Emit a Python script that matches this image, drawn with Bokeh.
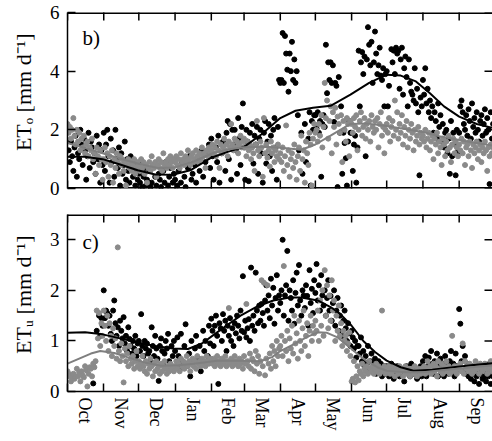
import math
from bokeh.plotting import figure
from bokeh.layouts import column
from bokeh.models import Range1d, FixedTicker, LinearAxis, Label
from bokeh.embed import file_html
from bokeh.resources import INLINE

FONT = "Liberation Serif"

# ---------------- axis categories ----------------
month_names = ["Oct", "Nov", "Dec", "Jan", "Feb", "Mar", "Apr", "May", "Jun", "Jul", "Aug", "Sep"]
month_start = [0, 31, 61, 92, 123, 151, 182, 212, 243, 273, 304, 335, 365]
month_mid = [15, 46, 76, 107, 137, 166, 197, 227, 258, 288, 319, 350]
b_yticks = [0, 2, 4, 6]
c_yticks = [0, 1, 2, 3]
b_ylabel = "\u00a0\u00a0\u00a0ET\u2092 [mm d\u207b\u00b9]"
c_ylabel = "\u00a0\u00a0\u00a0ET\u1d64 [mm d\u207b\u00b9]"

# ---------------- panel b) ETo : black points ----------------
b_black_day = [
    1, 2, 3, 4, 5, 6, 7, 8, 9, 10, 11, 12, 13, 14, 15, 16, 17, 18, 19, 20, 21, 22, 23, 24, 25, 26, 27, 28, 29, 30,
    31, 32, 33, 34, 35, 36, 37, 38, 39, 40, 41, 42, 43, 44, 45, 46, 47, 48, 49, 50, 51, 52, 53, 54, 55, 56, 57, 58, 59, 60,
    61, 62, 63, 64, 65, 66, 67, 68, 70, 71, 72, 74, 75, 76, 78, 79, 80, 82, 83, 84, 86, 87, 88, 90, 91,
    92, 94, 95, 97, 98, 100, 101, 103, 104, 106, 107, 109, 110, 112, 113, 115, 116, 118, 119, 121, 122,
    123, 124, 125, 127, 128, 129, 130, 132, 133, 135, 136, 137, 138, 139, 140, 141, 142, 143, 144, 145, 146, 147, 148, 149, 150,
    151, 152, 153, 154, 155, 156, 157, 158, 159, 160, 161, 162, 163, 164, 165, 166, 167, 168, 169, 170, 171, 172, 173, 174, 175, 176, 177, 178, 179, 180, 181,
    182, 183, 184, 185, 186, 187, 188, 189, 190, 191, 192, 193, 194, 195, 196, 197, 198, 200, 201, 203, 204, 206, 207, 208, 209, 210, 211,
    212, 213, 214, 215, 216, 217, 218, 219, 220, 221, 222, 223, 224, 225, 226, 227, 228, 229, 230, 231, 232, 233, 234, 235, 236, 237, 238, 239, 240, 241, 242,
    243, 244, 245, 246, 247, 248, 249, 250, 251, 252, 253, 254, 255, 256, 257, 258, 259, 260, 261, 262, 263, 264, 265, 266, 267, 268, 269, 270, 271, 272,
    273, 274, 275, 277, 278, 279, 280, 281, 282, 283, 284, 285, 286, 287, 288, 289, 290, 291, 292, 293, 294, 295, 296, 297, 298, 299, 300, 301, 302, 303,
    304, 305, 306, 307, 308, 309, 310, 311, 312, 313, 314, 315, 316, 317, 318, 319, 320, 321, 322, 323, 324, 325, 326, 327, 328, 329, 330, 331, 332, 333, 334,
    335, 336, 337, 338, 339, 340, 341, 342, 343, 344, 345, 346, 347, 348, 349, 350, 351, 352, 353, 354, 355, 356, 357, 358, 359, 360, 361, 362, 363, 364,
]
b_black_val = [
    1.3, 0.9, 1.6, 1.1, 0.6, 1.4, 1.8, 0.4, 1.2, 1.0, 2.0, 1.5, 0.8, 1.7, 1.3, 0.3, 1.1, 1.9, 0.7, 1.6, 1.4, 0.9, 1.2, 0.5, 1.8, 1.0, 1.5, 0.2, 1.3, 0.8,
    1.9, 0.6, 1.5, 2.0, 1.1, 0.2, 1.7, 0.9, 1.3, 0.4, 2.0, 1.0, 0.7, 1.4, 0.1, 1.2, 0.5, 0.8, 1.6, 0.3, 1.0, 0.6, 0.2, 1.1, 0.7, 0.4, 0.9, 0.1, 0.6, 0.3,
    0.5, 0.2, 0.9, 0.05, 0.4, 0.7, 0.1, 0.3, 0.6, 0.05, 0.2, 0.8, 0.4, 0.1, 0.5, 0.3, 0.05, 0.6, 0.2, 0.9, 0.1, 0.4, 0.7, 0.2, 0.5,
    0.3, 0.1, 0.6, 0.2, 0.9, 0.4, 0.05, 0.7, 1.1, 0.3, 0.5, 0.8, 0.2, 1.0, 0.6, 1.3, 0.4, 0.9, 1.2, 1.5, 0.7,
    1.7, 1.1, 0.3, 1.4, 0.9, 1.8, 0.2, 1.2, 1.6, 0.6, 1.9, 2.3, 1.0, 2.2, 0.3, 2.0, 1.5, 2.0, 1.3, 0.5, 2.4, 1.7, 0.8, 2.1, 2.9,
    1.4, 0.3, 2.0, 1.6, 0.25, 1.9, 1.4, 2.2, 0.85, 1.8, 1.5, 2.1, 0.5, 1.7, 2.0, 1.2, 0.2, 1.9, 2.3, 0.85, 1.6, 2.2, 1.1, 1.8, 0.6, 2.0, 2.4, 1.4, 0.3, 2.1, 3.7,
    3.6, 3.7, 5.3, 3.6, 5.2, 4.6, 4.05, 3.3, 4.6, 4.0, 5.0, 3.7, 4.4, 3.6, 4.0, 2.5, 1.3, 1.9, 0.5, 2.2, 0.9, 1.7, 2.6, 0.1, 2.3, 2.0, 2.5,
    2.5, 2.05, 2.6, 1.9, 2.3, 0.4, 2.2, 2.5, 2.1, 4.9, 3.25, 4.3, 3.7, 4.3, 3.6, 4.2, 2.27, 3.6, 3.5, 0.05, 3.8, 1.9, 2.8, 0.5, 1.9, 1.55, 1.03, 0.1, 1.6, 2.3, 1.9,
    1.9, 0.6, 1.5, 1.8, 0.2, 1.4, 4.7, 2.8, 4.3, 4.65, 3.9, 4.5, 1.1, 4.4, 5.5, 4.9, 4.2, 5.0, 3.6, 4.3, 5.35, 4.6, 3.9, 4.2, 4.8, 3.85, 3.7, 4.1, 2.8, 3.9,
    4.0, 2.8, 3.5, 4.75, 4.3, 4.7, 3.9, 4.8, 4.6, 4.7, 3.4, 4.4, 4.8, 3.2, 4.1, 4.5, 3.8, 2.8, 4.4, 3.6, 3.3, 3.2, 3.0, 4.1, 2.9, 3.4, 2.6, 0.45, 3.1, 2.8,
    3.7, 3.2, 4.1, 2.9, 3.4, 2.6, 3.0, 2.4, 2.8, 1.9, 2.6, 2.3, 1.7, 2.9, 2.1, 2.5, 1.6, 2.2, 1.4, 1.9, 2.0, 1.2, 1.7, 0.5, 2.3, 1.1, 1.9, 1.5, 0.45, 2.0, 1.25,
    1.9, 2.8, 3.0, 2.6, 2.2, 2.0, 2.5, 1.8, 2.7, 2.3, 1.7, 2.9, 2.1, 2.4, 1.9, 2.6, 2.0, 1.6, 2.3, 2.5, 1.8, 2.2, 2.7, 1.9, 2.4, 2.0, 0.15, 2.6, 1.7, 2.2,
]

# ---------------- panel b) ETo : grey points (one per day, per month) ----------------
b_grey_months = [
    [2.2, 1.9, 2.1, 1.7, 2.0, 2.4, 1.8, 1.5, 2.0, 1.6, 1.9, 1.3, 1.7, 1.4, 1.8, 1.2, 1.5, 1.6, 1.1, 1.4, 1.3, 1.7, 1.0, 1.2, 0.5, 1.4, 1.1, 0.8, 1.3, 1.0, 0.3],
    [1.0, 1.4, 0.9, 1.2, 0.4, 1.1, 0.8, 1.3, 0.2, 1.0, 0.7, 1.2, 0.9, 0.5, 1.1, 0.8, 1.0, 0.6, 0.9, 0.1, 0.8, 1.0, 0.7, 0.9, 0.6, 0.8, 1.0, 0.5, 0.7, 0.9],
    [0.8, 0.6, 1.0, 0.7, 0.9, 0.5, 0.8, 0.2, 0.7, 0.9, 0.6, 1.1, 0.8, 0.7, 0.9, 0.4, 0.8, 1.0, 0.7, 0.9, 0.6, 1.2, 0.8, 0.9, 0.7, 1.0, 0.8, 1.1, 0.9, 0.7, 1.0],
    [0.9, 1.1, 0.8, 1.0, 0.7, 1.2, 0.9, 1.0, 0.8, 1.1, 0.9, 1.3, 1.0, 0.8, 1.1, 1.2, 0.9, 1.0, 1.3, 1.1, 0.9, 1.2, 1.0, 1.4, 1.1, 1.2, 0.7, 1.3, 1.1, 1.4, 1.2],
    [1.3, 1.5, 1.2, 1.4, 1.1, 1.6, 1.3, 0.7, 1.5, 1.2, 1.4, 1.7, 1.3, 1.5, 1.1, 1.6, 1.4, 2.2, 1.5, 1.3, 1.7, 1.4, 1.6, 1.2, 1.5, 1.8, 1.4, 1.6],
    [1.7, 1.4, 1.1, 1.6, 1.3, 1.5, 1.0, 1.4, 1.2, 0.6, 1.5, 2.3, 1.3, 1.1, 1.6, 1.4, 0.4, 2.4, 1.2, 1.5, 1.05, 1.3, 0.75, 1.6, 1.2, 1.4, 0.9, 1.3, 1.1, 1.5, 1.0],
    [1.2, 0.9, 1.4, 0.6, 1.1, 2.15, 0.8, 1.3, 0.4, 1.0, 1.2, 0.7, 1.5, 0.9, 0.3, 1.1, 1.4, 0.6, 1.8, 1.0, 1.3, 0.2, 1.6, 1.2, 0.8, 1.9, 1.5, 0.1, 1.7, 2.2],
    [1.9, 2.0, 1.6, 2.2, 1.8, 2.5, 1.4, 2.1, 3.6, 2.4, 3.0, 1.7, 2.3, 2.8, 1.2, 2.6, 2.1, 2.75, 1.5, 2.45, 2.2, 1.9, 2.5, 0.9, 2.3, 2.0, 1.6, 2.4, 2.2, 1.1, 2.3],
    [2.2, 1.9, 2.4, 2.1, 2.5, 1.3, 2.0, 2.3, 2.6, 1.8, 2.1, 2.4, 1.7, 2.2, 2.0, 2.3, 1.6, 2.5, 2.1, 1.9, 2.3, 2.0, 2.4, 1.4, 2.2, 2.6, 1.8, 2.1, 1.2, 2.0],
    [2.2, 1.9, 2.4, 1.6, 2.1, 2.3, 1.8, 3.0, 2.0, 2.6, 1.7, 2.2, 1.9, 2.5, 1.5, 2.1, 1.8, 2.3, 1.4, 2.0, 1.7, 2.2, 1.9, 1.3, 2.0, 1.6, 1.8, 2.1, 1.5, 1.9, 1.7],
    [1.8, 1.6, 2.0, 1.4, 1.7, 1.9, 1.3, 1.6, 1.8, 1.0, 1.7, 1.5, 1.9, 1.2, 1.6, 1.4, 0.8, 1.7, 1.5, 1.1, 1.6, 1.3, 1.8, 1.4, 0.9, 1.5, 1.7, 1.2, 1.6, 1.4, 1.1],
    [1.5, 1.3, 1.7, 1.2, 1.6, 0.8, 1.4, 1.5, 1.1, 1.6, 1.3, 0.7, 1.5, 1.2, 1.4, 1.6, 1.0, 1.3, 1.5, 0.9, 1.4, 1.2, 1.6, 1.3, 0.6, 1.4, 1.1, 1.5, 1.2, 1.4],
]

# ---------------- panel b) fitted curves ----------------
b_black_fit_day = [0, 15, 30, 45, 60, 75, 90, 105, 123, 137, 151, 166, 182, 195, 210, 225, 242, 258, 273, 285, 298, 310, 322, 335, 350, 365]
b_black_fit_val = [1.08, 1.08, 1.0, 0.82, 0.62, 0.48, 0.47, 0.62, 1.05, 1.25, 1.42, 1.85, 2.4, 2.65, 2.75, 2.82, 3.2, 3.6, 3.88, 3.85, 3.65, 3.25, 2.8, 2.45, 2.2, 2.05]
b_grey_fit_day = [0, 15, 30, 45, 60, 77, 92, 108, 125, 140, 151, 170, 185, 200, 212, 225, 242, 255, 270, 290, 305, 318, 335, 350, 365]
b_grey_fit_val = [1.55, 1.38, 1.2, 1.02, 0.85, 0.7, 0.72, 0.92, 1.22, 1.35, 1.41, 1.42, 1.38, 1.32, 1.5, 1.8, 2.2, 2.22, 2.15, 2.02, 1.92, 1.78, 1.65, 1.55, 1.45]

# ---------------- panel c) ETu : black points ----------------
c_black_day = [
    22, 25, 27, 28, 29, 30,
    31, 32, 33, 34, 35, 36, 37, 38, 39, 40, 41, 42, 43, 44, 45, 46, 47, 48, 49, 50, 51, 52, 53, 54, 55, 56, 57, 58, 59, 60,
    61, 62, 63, 64, 65, 66, 67, 68, 69, 70, 71, 72, 73, 74, 75, 76, 77, 78, 79, 80, 81, 82, 83, 84, 85, 86, 87, 88, 89, 90, 91,
    92, 93, 94, 95, 96, 97, 98, 100, 101, 102, 104, 105, 106, 108, 109, 110, 112, 113, 114, 116, 117, 118, 120, 121, 122,
    123, 124, 125, 126, 127, 128, 129, 130, 131, 132, 133, 134, 135, 136, 137, 138, 139, 140, 141, 142, 143, 144, 145, 146, 147, 148, 149, 150,
    151, 152, 153, 154, 155, 156, 157, 158, 159, 160, 161, 162, 163, 164, 165, 166, 167, 168, 169, 170, 171, 172, 173, 174, 175, 176, 177, 178, 179, 180, 181,
    182, 183, 184, 185, 186, 187, 188, 189, 190, 191, 192, 193, 194, 195, 196, 197, 198, 199, 200, 201, 202, 203, 204, 205, 206, 207, 208, 209, 210, 211,
    212, 213, 214, 215, 216, 217, 218, 219, 220, 221, 222, 223, 224, 225, 226, 227, 228, 229, 230, 231, 232, 233, 234, 235, 236, 237, 238, 239, 240, 241, 242,
    243, 244, 245, 246, 247, 248, 249, 250, 251, 252, 253, 254, 255, 256, 257, 258, 259, 260, 261, 262, 263, 264, 265, 266, 267, 268, 269, 270, 271, 272,
    273, 274, 275, 277, 278, 279, 281, 282, 284, 285, 287, 288, 290, 291, 293, 294, 296, 297, 299, 300, 302, 303,
    304, 305, 306, 307, 308, 309, 310, 311, 312, 313, 314, 315, 316, 317, 318, 319, 320, 321, 322, 323, 324, 325, 326, 327, 328, 329, 330, 331, 332, 333, 334,
    335, 336, 337, 338, 339, 340, 341, 342, 343, 344, 345, 346, 347, 348, 349, 350, 351, 352, 353, 354, 355, 356, 357, 358, 359, 360, 361, 362, 363, 364,
]
c_black_val = [
    0.16, 1.2, 1.5, 1.1, 1.45, 1.3,
    2.0, 1.45, 1.6, 1.55, 1.3, 1.5, 1.14, 1.0, 1.6, 1.8, 1.35, 1.1, 1.27, 0.9, 1.4, 1.2, 1.05, 1.47, 0.95, 1.1, 0.8, 1.27, 1.04, 0.9, 0.75, 1.0, 0.85, 1.1, 0.7, 0.95,
    1.0, 0.8, 1.53, 0.9, 0.7, 1.0, 0.85, 0.95, 0.75, 0.8, 0.61, 1.27, 0.9, 0.7, 1.1, 0.85, 0.65, 0.21, 0.9, 1.05, 0.8, 0.55, 0.75, 1.0, 0.85, 1.14, 0.6, 0.45, 0.9, 0.7, 1.0,
    0.8, 0.5, 1.07, 0.7, 0.45, 1.14, 0.6, 0.9, 1.33, 0.5, 0.75, 0.3, 1.0, 0.6, 0.85, 1.1, 0.65, 0.9, 0.4, 1.2, 0.8, 1.0, 0.7, 1.3, 0.95,
    1.44, 1.2, 0.9, 1.3, 1.5, 1.1, 0.15, 1.35, 1.25, 1.0, 1.53, 1.2, 1.4, 0.8, 1.3, 1.1, 1.45, 1.0, 1.25, 0.9, 1.35, 1.15, 1.5, 1.3, 1.05, 1.6, 1.2, 2.28,
    1.17, 1.4, 1.07, 1.25, 1.43, 1.0, 2.45, 1.3, 1.5, 1.2, 2.35, 1.6, 1.35, 1.7, 1.4, 1.73, 1.55, 1.3, 1.8, 2.1, 1.6, 1.9, 1.45, 2.23, 1.7, 2.05, 1.34, 1.85, 2.3, 1.6, 1.9,
    1.75, 2.0, 3.0, 1.5, 1.9, 2.1, 2.78, 1.4, 2.0, 1.85, 1.6, 2.2, 1.34, 1.95, 2.35, 1.7, 2.5, 1.8, 1.5, 2.0, 1.9, 1.65, 2.1, 1.89, 1.3, 2.4, 1.75, 2.03, 1.55, 2.2,
    1.95, 2.52, 1.8, 2.1, 1.6, 2.3, 1.9, 1.7, 2.0, 1.5, 1.85, 2.2, 1.6, 1.89, 1.4, 1.75, 2.0, 1.3, 1.6, 1.85, 1.2, 1.5, 1.7, 1.1, 1.4, 1.6, 1.25, 1.0, 1.35, 1.15, 0.9,
    1.2, 1.07, 0.85, 1.0, 0.67, 0.9, 0.9, 0.75, 1.07, 0.6, 0.8, 0.5, 0.7, 0.55, 0.9, 0.45, 0.6, 0.75, 0.4, 0.55, 0.65, 0.35, 0.5, 0.6, 0.4, 0.55, 0.3, 0.45, 0.5, 0.35,
    0.5, 0.4, 0.3, 0.55, 0.45, 0.25, 0.4, 0.5, 0.3, 0.45, 0.35, 0.2, 0.5, 0.4, 0.3, 0.55, 0.35, 0.45, 0.25, 0.4, 0.5, 0.3,
    0.6, 0.45, 0.7, 0.3, 0.5, 0.67, 0.4, 0.8, 0.55, 0.35, 0.6, 0.45, 0.75, 0.3, 0.5, 0.65, 0.4, 0.55, 0.3, 0.7, 0.45, 0.5, 0.35, 0.6, 0.8, 0.4, 0.55, 0.3, 0.75, 0.5, 0.45,
    1.63, 1.34, 0.6, 0.9, 0.4, 0.7, 0.35, 0.55, 0.3, 0.45, 0.25, 0.5, 0.35, 0.2, 0.4, 0.3, 0.5, 0.15, 0.35, 0.45, 0.25, 0.4, 0.3, 0.2, 0.45, 0.3, 0.55, 0.15, 0.4, 0.3,
]

# ---------------- panel c) ETu : grey points (one per day, per month) ----------------
c_grey_months = [
    [0.4, 0.35, 0.3, 0.2, 0.28, 0.35, 0.25, 0.3, 0.45, 0.3, 0.38, 0.2, 0.4, 0.32, 0.28, 0.5, 0.42, 0.1, 0.35, 0.48, 0.45, 0.3, 0.55, 0.48, 0.6, 1.6, 1.05, 1.55, 0.9, 1.35, 1.1],
    [1.6, 1.3, 1.0, 1.5, 0.8, 1.35, 1.1, 0.7, 1.25, 0.9, 1.05, 0.65, 2.85, 0.8, 0.6, 0.95, 0.7, 0.18, 0.85, 0.6, 0.75, 0.5, 0.9, 0.65, 0.55, 0.7, 0.45, 0.6, 0.8, 0.5],
    [0.6, 0.45, 0.55, 0.7, 0.5, 0.4, 0.6, 0.35, 0.55, 0.45, 0.65, 0.5, 0.3, 0.55, 0.4, 0.6, 0.45, 0.5, 0.35, 0.55, 0.4, 0.5, 0.6, 0.45, 0.35, 0.5, 0.4, 0.55, 0.45, 0.5, 0.4],
    [0.5, 0.6, 0.45, 0.55, 0.4, 0.65, 0.5, 0.6, 0.45, 0.55, 0.7, 0.5, 0.6, 0.4, 0.55, 0.65, 0.5, 0.6, 0.45, 0.7, 0.55, 0.6, 0.5, 0.65, 0.55, 0.6, 0.5, 0.7, 0.6, 0.55, 0.65],
    [0.6, 0.55, 0.65, 0.5, 0.6, 0.7, 0.55, 0.6, 0.5, 0.65, 0.55, 0.6, 0.7, 0.5, 0.6, 1.65, 0.55, 0.65, 0.5, 0.6, 0.7, 0.55, 0.6, 0.5, 0.65, 0.55, 0.6, 0.45],
    [0.7, 0.55, 1.73, 0.6, 0.5, 0.75, 0.45, 0.65, 0.6, 0.4, 0.8, 0.55, 0.7, 0.35, 0.6, 2.2, 0.5, 2.15, 0.32, 0.65, 2.1, 0.55, 0.75, 0.45, 0.9, 0.6, 0.8, 0.5, 1.0, 0.7, 0.85],
    [0.9, 1.1, 0.7, 2.48, 1.0, 0.8, 1.2, 0.6, 1.05, 0.85, 1.3, 0.75, 1.5, 0.95, 1.15, 0.65, 1.4, 1.0, 0.8, 1.25, 1.6, 0.9, 1.1, 1.35, 0.7, 1.2, 1.5, 1.0, 1.3, 1.15],
    [1.4, 1.2, 1.6, 1.0, 1.8, 1.3, 2.0, 1.1, 2.4, 1.5, 2.1, 1.25, 1.9, 1.4, 2.2, 1.6, 1.8, 1.0, 1.5, 1.2, 1.7, 1.1, 1.35, 0.9, 1.2, 1.0, 1.1, 0.8, 0.95, 1.17, 0.7],
    [0.2, 0.25, 0.6, 0.18, 0.3, 0.5, 0.22, 0.4, 0.35, 0.55, 0.3, 0.45, 0.4, 0.5, 0.35, 0.6, 0.45, 0.4, 0.5, 0.35, 0.45, 0.55, 0.4, 0.5, 0.35, 0.45, 1.6, 0.4, 0.5, 0.35],
    [0.45, 0.4, 0.5, 0.35, 0.45, 0.4, 0.5, 0.3, 0.45, 0.4, 0.35, 0.5, 0.4, 0.45, 0.3, 0.4, 0.5, 0.35, 0.45, 0.4, 0.3, 0.45, 0.4, 0.35, 0.5, 0.4, 0.3, 0.45, 0.4, 0.35, 0.45],
    [0.4, 0.5, 0.35, 0.45, 0.6, 0.4, 0.5, 0.35, 0.45, 0.55, 0.4, 0.5, 0.3, 0.6, 0.45, 0.4, 0.55, 0.35, 0.5, 0.45, 0.6, 0.4, 0.5, 0.35, 0.45, 1.1, 0.4, 0.5, 0.45, 0.35, 0.5],
    [0.45, 0.55, 0.4, 0.95, 0.35, 0.6, 0.45, 0.5, 0.4, 0.55, 0.45, 0.35, 0.5, 0.4, 0.6, 0.45, 0.5, 0.35, 0.55, 0.45, 0.4, 0.5, 0.55, 0.45, 0.35, 0.5, 0.45, 0.6, 0.4, 0.5],
]

# ---------------- panel c) fitted curves ----------------
c_black_fit_day = [0, 15, 30, 45, 60, 75, 90, 103, 115, 125, 137, 148, 162, 176, 190, 200, 214, 225, 233, 243, 253, 263, 273, 285, 296, 312, 330, 345, 365]
c_black_fit_val = [1.16, 1.17, 1.13, 1.05, 0.97, 0.9, 0.85, 0.84, 0.95, 1.12, 1.32, 1.5, 1.68, 1.8, 1.86, 1.86, 1.8, 1.67, 1.54, 1.3, 1.0, 0.78, 0.61, 0.48, 0.41, 0.43, 0.48, 0.52, 0.56]
c_grey_fit_day = [0, 10, 20, 28, 40, 51, 65, 80, 95, 108, 128, 148, 165, 175, 182, 195, 205, 214, 222, 231, 240, 248, 256, 265, 273, 290, 304, 320, 333, 350, 365]
c_grey_fit_val = [0.55, 0.65, 0.75, 0.8, 0.76, 0.68, 0.58, 0.51, 0.52, 0.55, 0.61, 0.61, 0.6, 0.68, 0.8, 0.95, 1.08, 1.17, 1.16, 1.07, 0.9, 0.74, 0.6, 0.48, 0.41, 0.38, 0.38, 0.42, 0.45, 0.49, 0.52]


def daily(months):
    days, vals = [], []
    for m, lst in enumerate(months):
        for i, v in enumerate(lst):
            days.append(month_start[m] + i)
            vals.append(v)
    return days, vals


b_grey_day, b_grey_val = daily(b_grey_months)
c_grey_day, c_grey_val = daily(c_grey_months)

XMAX = 363.5
GREY_PT = "#8a8a8a"
GREY_LN = "#7f7f7f"
TICK_FS = "19px"
W = 492


def panel(height, ymax, yticks, ylabel, btop, bbot, labels_below):
    p = figure(width=W, height=height, x_range=Range1d(0, XMAX), y_range=Range1d(0, ymax),
               output_backend="svg", toolbar_location=None,
               x_axis_location=None, y_axis_location=None,
               min_border_left=67, min_border_right=0, min_border_top=btop, min_border_bottom=bbot)
    p.outline_line_color = None
    p.border_fill_color = "white"
    for g in p.xgrid:
        g.visible = False
    for g in p.ygrid:
        g.visible = False

    left = LinearAxis(ticker=FixedTicker(ticks=yticks),
                      major_tick_in=8, major_tick_out=0, minor_tick_line_color=None,
                      axis_line_width=1.5, major_tick_line_width=1.5,
                      major_label_text_font=FONT, major_label_text_font_size=TICK_FS,
                      major_label_text_color="black", major_label_standoff=8,
                      axis_label=ylabel, axis_label_text_font=FONT, axis_label_text_font_size="22px",
                      axis_label_text_font_style="normal", axis_label_text_color="black",
                      axis_label_standoff=11)
    p.add_layout(left, "left")

    if labels_below:
        bottom = LinearAxis(ticker=FixedTicker(ticks=month_mid, minor_ticks=month_start),
                            major_tick_in=0, major_tick_out=0, minor_tick_in=8, minor_tick_out=0,
                            axis_line_width=1.5, minor_tick_line_width=1.5,
                            major_label_standoff=6,
                            major_label_overrides={m: n for m, n in zip(month_mid, month_names)},
                            major_label_orientation="vertical",
                            major_label_text_font=FONT, major_label_text_font_size="18px",
                            major_label_text_color="black")
        p.add_layout(bottom, "below")
    else:
        # bottom frame edge and inward month ticks
        p.hspan(y=[0], line_width=3, line_color="black")
        p.scatter(month_start, [0] * len(month_start), marker="dash", angle=math.pi / 2,
                  size=16, line_width=1.5, line_color="black")

    # top frame edge with inward month ticks
    p.hspan(y=[ymax], line_width=3, line_color="black")
    p.scatter(month_start, [ymax] * len(month_start), marker="dash", angle=math.pi / 2,
              size=16, line_width=1.5, line_color="black")
    # right-hand inward ticks (frame edge itself lies just outside the picture)
    p.scatter([XMAX] * len(yticks), yticks, marker="dash", size=16, line_width=1.5, line_color="black")
    return p


# ---------------- panel b ----------------
pb = panel(200, 6, b_yticks, b_ylabel, 12, 12, False)
pb.scatter(b_black_day, b_black_val, size=5, color="black")
pb.scatter(b_grey_day, b_grey_val, size=5, color=GREY_PT)
pb.line(b_black_fit_day, b_black_fit_val, line_width=2, color="black")
pb.line(b_grey_fit_day, b_grey_fit_val, line_width=2, color=GREY_LN)
pb.add_layout(Label(x=12.8, y=5.12, text="b)", text_font=FONT, text_font_size="21px",
                    text_color="black", text_baseline="alphabetic"))

# ---------------- panel c ----------------
pc = panel(241, 3.5, c_yticks, c_ylabel, 14, 50, True)
pc.scatter(c_black_day, c_black_val, size=5, color="black")
pc.scatter(c_grey_day, c_grey_val, size=5, color=GREY_PT)
pc.line(c_black_fit_day, c_black_fit_val, line_width=2, color="black")
pc.line(c_grey_fit_day, c_grey_fit_val, line_width=2, color=GREY_LN)
pc.add_layout(Label(x=12.8, y=2.95, text="c)", text_font=FONT, text_font_size="21px",
                    text_color="black", text_baseline="alphabetic"))

layout = column(pb, pc, spacing=0)
open("out.html", "w").write(file_html(layout, INLINE))
